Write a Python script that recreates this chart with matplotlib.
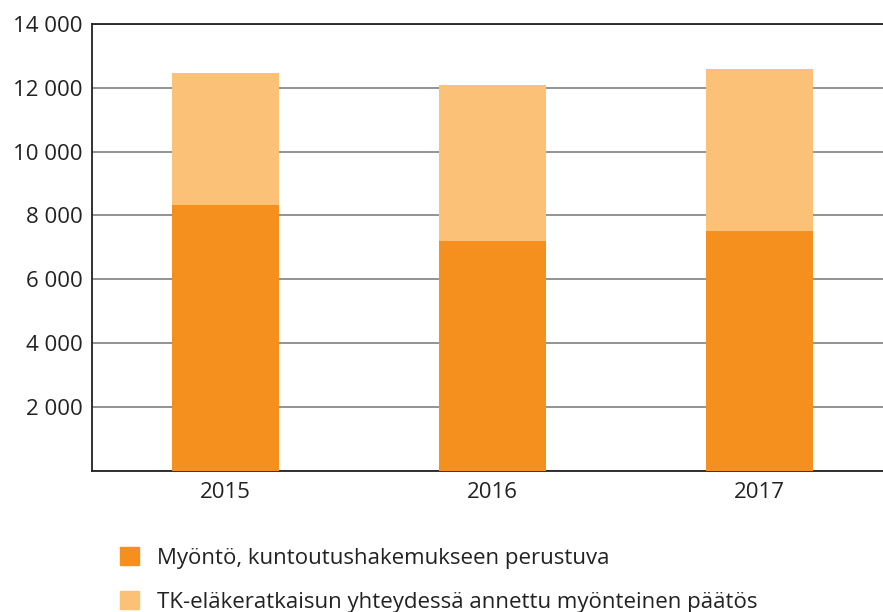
import matplotlib.pyplot as plt
from matplotlib.patches import Patch
from matplotlib.ticker import FuncFormatter

years = ['2015', '2016', '2017']
hakemus = [8310, 7195, 7517]
tk_paatos = [4150, 4880, 5070]
labels = ['Myöntö, kuntoutushakemukseen perustuva',
          'TK-eläkeratkaisun yhteydessä annettu myönteinen päätös']
colors = ['#F5901F', '#FAC177']

plt.rcParams['font.family'] = ['Open Sans', 'DejaVu Sans']

fig = plt.figure(figsize=(8.83, 6.12), dpi=100)
ax = fig.add_axes([92 / 883, 1 - 470.5 / 612, 1 - 92 / 883, (470.5 - 24) / 612])

x = range(len(years))
ax.bar(x, hakemus, width=0.4, color=colors[0], zorder=3)
ax.bar(x, tk_paatos, bottom=hakemus, width=0.4, color=colors[1], zorder=3)

ax.set_xlim(-0.5, 2.462)
ax.set_ylim(0, 14000)
ax.set_xticks(list(x))
ax.set_xticklabels(years)
ax.set_yticks(range(0, 14001, 2000))
ax.yaxis.set_major_formatter(FuncFormatter(
    lambda v, p: '' if v == 0 else f'{int(v):,}'.replace(',', ' ')))
ax.tick_params(axis='both', length=0, labelsize=16, colors='#222222')
ax.tick_params(axis='y', pad=7)
ax.tick_params(axis='x', pad=8)

ax.grid(axis='y', color='#808080', linewidth=1.2, zorder=0)
ax.spines['right'].set_visible(False)
for s in ['left', 'bottom', 'top']:
    ax.spines[s].set_color('#222222')
    ax.spines[s].set_linewidth(1.3)

handles = [Patch(color=c) for c in colors]
fig.legend(handles, labels, loc='upper left', bbox_to_anchor=(100 / 883, 1 - 527 / 612),
           frameon=False, fontsize=16, handlelength=0.85, handleheight=0.85,
           handletextpad=0.8, labelspacing=1.02, labelcolor='#222222')

fig.savefig('out.png', dpi=100)
